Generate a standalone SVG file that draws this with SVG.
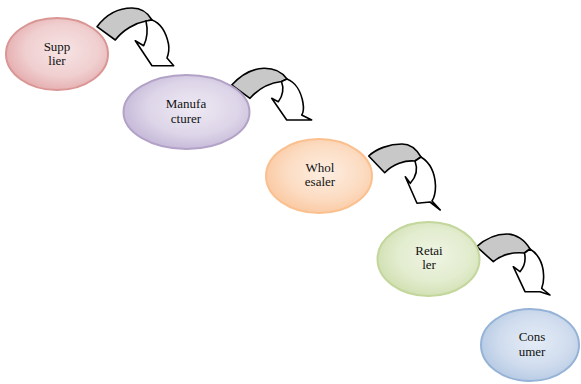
<svg xmlns="http://www.w3.org/2000/svg" width="581" height="384" viewBox="0 0 581 384">
<style>
.node{stroke-width:2}
.lbl{font-family:"Liberation Serif","Times New Roman",serif;font-size:13px;fill:#111;text-anchor:middle}
.band{fill:#c8c8c8;stroke:#000;stroke-width:1.6;stroke-linejoin:round}
.curl{fill:#fff;stroke:#000;stroke-width:1.6;stroke-linejoin:round}
</style>
<defs>
<radialGradient id="gRed" cx="55%" cy="45%" r="60%"><stop offset="0" stop-color="#f7e4e4"/><stop offset="0.6" stop-color="#f0cfd0"/><stop offset="1" stop-color="#e4a9ab"/></radialGradient>
<radialGradient id="gPur" cx="55%" cy="45%" r="60%"><stop offset="0" stop-color="#eeeaf4"/><stop offset="0.6" stop-color="#ddd5e8"/><stop offset="1" stop-color="#c2b5d6"/></radialGradient>
<radialGradient id="gOra" cx="55%" cy="45%" r="60%"><stop offset="0" stop-color="#fdeee2"/><stop offset="0.6" stop-color="#fcdcc2"/><stop offset="1" stop-color="#fac79f"/></radialGradient>
<radialGradient id="gGrn" cx="55%" cy="45%" r="60%"><stop offset="0" stop-color="#eff5e4"/><stop offset="0.6" stop-color="#e2ecce"/><stop offset="1" stop-color="#cfdeae"/></radialGradient>
<radialGradient id="gBlu" cx="55%" cy="45%" r="60%"><stop offset="0" stop-color="#e4ecf6"/><stop offset="0.6" stop-color="#d0dcee"/><stop offset="1" stop-color="#b3c8e2"/></radialGradient>
</defs>
<g id="connectors">
<g id="arrow1">
<path class="band" d="M97,26.7 C105,16 117,8 132,8 C141,8 148,13 152,20 L146,21 C135,23 123,30 115.3,40 Z"/>
<path class="curl" d="M146,21 L152,20 C160,23 166,32 168.5,44 C169.5,50 168.5,54 167,58 L173.7,65.7 L152,65.7 L135.3,40.7 L143.7,45.7 C147,39 148,30 146,21 Z"/>
</g>
<g id="arrow2">
<path class="band" d="M231.7,85 C240,76 251,68.5 264,68.3 C274,68.2 282,72 287,79 L281.5,81.5 C270,83 258,89 250,98.3 Z"/>
<path class="curl" d="M281.5,81.5 L287,79 C295,82 301,91 303,103 C304,109 303,113 301.7,115 L311.7,120 L286.7,120 L271.7,98.3 L278.3,101.7 C283,96 284,88 281.5,81.5 Z"/>
</g>
<g id="arrow3">
<path class="band" d="M368.7,156 C376,149 389,144 402,144 C411,144 417,150 421,157 L415,161 C405,160 393,164 384.7,172.7 Z"/>
<path class="curl" d="M415,161 L421,157 C429,162 435,172 435.5,186 C435.5,193 434,198 432,201 L440.3,210 L430,202 L417,203.3 L405.3,176.7 L410.3,183.3 C416,177 418,169 415,161 Z"/>
</g>
<g id="arrow4">
<path class="band" d="M476.7,246.7 C484,240 495,234 507,234 C516,234 525,240 530,249 L524.5,253 C513,252 501,255 493.3,261.7 Z"/>
<path class="curl" d="M524.5,253 L530,249 C537,253 543,262 543.5,274 C544,280 543,285 541.7,288.3 L550,295 L540,291.7 L525,291.7 L513.3,266.7 L520,271.7 C525,266 526,260 524.5,253 Z"/>
</g>
</g>
<g id="supplier">
<ellipse class="node" cx="57" cy="54" rx="51" ry="36" fill="url(#gRed)" stroke="#d99694"/>
<text class="lbl" x="57" y="51">Supp</text>
<text class="lbl" x="57" y="65">lier</text>
</g>
<g id="manufacturer">
<ellipse class="node" cx="186.5" cy="112" rx="63" ry="37" fill="url(#gPur)" stroke="#b3a2c7"/>
<text class="lbl" x="186" y="108">Manufa</text>
<text class="lbl" x="186" y="123">cturer</text>
</g>
<g id="wholesaler">
<ellipse class="node" cx="319" cy="176" rx="53" ry="37" fill="url(#gOra)" stroke="#fac090"/>
<text class="lbl" x="320" y="172">Whol</text>
<text class="lbl" x="320" y="186">esaler</text>
</g>
<g id="retailer">
<ellipse class="node" cx="428.5" cy="259" rx="51" ry="37" fill="url(#gGrn)" stroke="#c3d69b"/>
<text class="lbl" x="429" y="255">Retai</text>
<text class="lbl" x="429" y="269">ler</text>
</g>
<g id="consumer">
<ellipse class="node" cx="530" cy="345" rx="49" ry="36" fill="url(#gBlu)" stroke="#95b3d7"/>
<text class="lbl" x="532" y="341">Cons</text>
<text class="lbl" x="532" y="356">umer</text>
</g>
</svg>
